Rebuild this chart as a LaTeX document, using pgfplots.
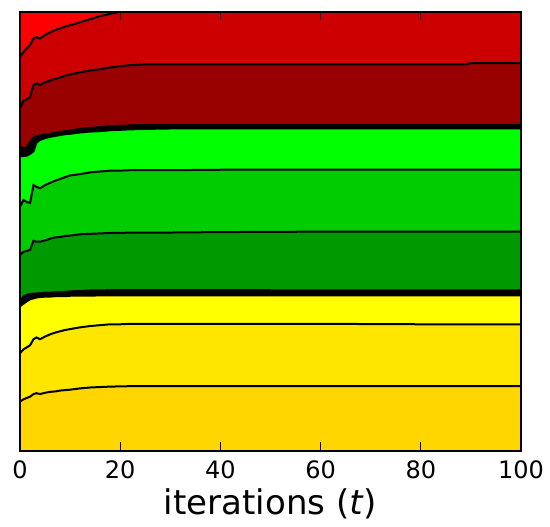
\documentclass[border=0pt]{standalone}
\usepackage{pgfplots}
\pgfplotsset{compat=1.18}
\usepackage{pgfplotstable}
\usepackage{fontspec}
\setmainfont{DejaVu Sans}
\usetikzlibrary{calc}
\definecolor{cgold}{RGB}{255,214,0}
\definecolor{cyg}{RGB}{255,230,0}
\definecolor{cyel}{RGB}{255,255,0}
\definecolor{cdg}{RGB}{0,153,0}
\definecolor{cmg}{RGB}{0,204,0}
\definecolor{cbg}{RGB}{0,255,0}
\definecolor{cdr}{RGB}{153,0,0}
\definecolor{cmr}{RGB}{204,0,0}
\definecolor{cbr}{RGB}{255,0,0}
\pgfplotstableread{
t    b1    b2    b3    b4    b5    b6    b7    b8    b9    b10
0    0.112 0.222 0.329 0.341 0.446 0.556 0.671 0.692 0.780 0.897
0.7  0.117 0.231 0.335 0.351 0.453 0.571 0.671 0.690 0.797 0.908
1.3  0.120 0.235 0.340 0.355 0.455 0.567 0.672 0.690 0.800 0.916
2    0.123 0.240 0.345 0.357 0.457 0.564 0.676 0.703 0.805 0.924
2.7  0.129 0.254 0.347 0.358 0.478 0.605 0.682 0.713 0.833 0.939
3.3  0.131 0.258 0.349 0.358 0.476 0.601 0.702 0.717 0.837 0.942
4    0.129 0.254 0.350 0.359 0.476 0.598 0.708 0.718 0.833 0.939
5    0.132 0.260 0.351 0.360 0.479 0.605 0.712 0.720 0.839 0.947
6    0.134 0.265 0.351 0.360 0.483 0.610 0.715 0.722 0.843 0.953
7    0.135 0.269 0.352 0.361 0.486 0.615 0.717 0.724 0.847 0.958
8    0.137 0.272 0.352 0.361 0.487 0.619 0.719 0.726 0.850 0.962
9    0.138 0.275 0.352 0.362 0.489 0.623 0.721 0.728 0.854 0.966
10   0.139 0.277 0.353 0.363 0.490 0.627 0.722 0.729 0.857 0.969
12   0.142 0.281 0.353 0.364 0.493 0.630 0.725 0.733 0.862 0.976
14   0.144 0.284 0.353 0.365 0.494 0.634 0.727 0.735 0.866 0.983
16   0.145 0.286 0.354 0.365 0.495 0.636 0.728 0.737 0.869 0.990
18   0.146 0.288 0.354 0.366 0.496 0.638 0.730 0.739 0.873 0.995
20   0.1465 0.288 0.354 0.366 0.496 0.638 0.731 0.740 0.876 1.000
22   0.147 0.289 0.354 0.366 0.497 0.639 0.732 0.741 0.878 1.000
25   0.147 0.289 0.354 0.366 0.497 0.639 0.733 0.742 0.880 1.000
30   0.147 0.289 0.354 0.366 0.497 0.639 0.734 0.742 0.880 1.000
40   0.147 0.289 0.354 0.366 0.498 0.640 0.734 0.742 0.880 1.000
60   0.147 0.289 0.354 0.365 0.499 0.640 0.734 0.742 0.880 1.000
80   0.147 0.288 0.354 0.365 0.499 0.640 0.734 0.742 0.880 1.000
89   0.147 0.288 0.354 0.365 0.499 0.640 0.734 0.742 0.880 1.000
90   0.147 0.288 0.354 0.365 0.499 0.640 0.734 0.742 0.883 1.000
100  0.147 0.288 0.354 0.365 0.499 0.640 0.734 0.742 0.883 1.000
}\bounds
\begin{document}
\begin{tikzpicture}
\begin{axis}[
  name=ax,
  scale only axis,
  width=250.5pt, height=219.5pt,
  xmin=0, xmax=100, ymin=0, ymax=1,
  axis on top,
  axis line style={line width=0.8pt},
  xtick={0,20,40,60,80,100},
  xticklabels={0,20,40,60,80,100},
  xtick pos=both,
  tick align=inside,
  major tick length=4.3pt,
  tick style={black, line width=0.5pt},
  ytick=\empty,
  xticklabel style={font=\fontsize{12}{12}\selectfont, yshift=-1.5pt},
  xlabel={iterations (\textit{t})},
  xlabel style={font=\fontsize{17}{17}\selectfont, yshift=2pt},
]
\addplot[fill=cbr, draw=none] coordinates {(0,1) (100,1)} \closedcycle;
\addplot[fill=cmr, draw=none] table[x=t,y=b10]{\bounds} \closedcycle;
\addplot[fill=cdr, draw=none] table[x=t,y=b9]{\bounds} \closedcycle;
\addplot[fill=black, draw=none] table[x=t,y=b8]{\bounds} \closedcycle;
\addplot[fill=cbg, draw=none] table[x=t,y=b7]{\bounds} \closedcycle;
\addplot[fill=cmg, draw=none] table[x=t,y=b6]{\bounds} \closedcycle;
\addplot[fill=cdg, draw=none] table[x=t,y=b5]{\bounds} \closedcycle;
\addplot[fill=black, draw=none] table[x=t,y=b4]{\bounds} \closedcycle;
\addplot[fill=cyel, draw=none] table[x=t,y=b3]{\bounds} \closedcycle;
\addplot[fill=cyg, draw=none] table[x=t,y=b2]{\bounds} \closedcycle;
\addplot[fill=cgold, draw=none] table[x=t,y=b1]{\bounds} \closedcycle;
\foreach \c in {b1,b2,b3,b4,b5,b6,b7,b8,b9,b10}{
  \addplot[black, line width=1pt] table[x=t,y=\c]{\bounds};
}
\end{axis}
\pgfresetboundingbox
\useasboundingbox ($(ax.south west)+(-10pt,-37.65pt)$) rectangle ($(ax.north east)+(14.5pt,5.85pt)$);
\end{tikzpicture}
\end{document}
